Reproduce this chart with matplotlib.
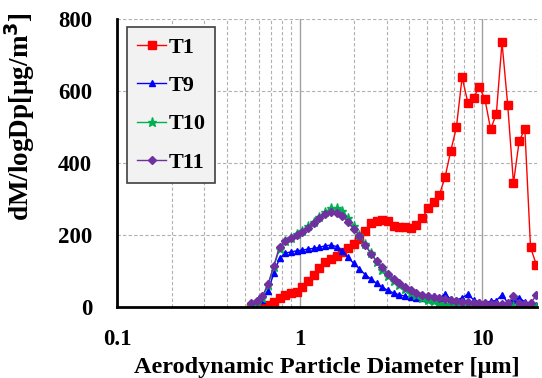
import numpy as np
import matplotlib
matplotlib.use("Agg")
import matplotlib.pyplot as plt
from matplotlib.ticker import FixedLocator, FixedFormatter, NullFormatter

plt.rcParams['font.family'] = ['Liberation Serif', 'DejaVu Serif']
plt.rcParams['font.weight'] = 'bold'

# APS channel midpoints (um)
diam = [0.542, 0.583, 0.626, 0.673, 0.723, 0.777, 0.835, 0.898, 0.965, 1.037,
        1.114, 1.197, 1.286, 1.382, 1.486, 1.596, 1.715, 1.843, 1.981, 2.129,
        2.288, 2.458, 2.642, 2.839, 3.051, 3.278, 3.523, 3.786, 4.068, 4.371,
        4.698, 5.048, 5.425, 5.829, 6.264, 6.732, 7.234, 7.774, 8.354, 8.977,
        9.647, 10.37, 11.14, 11.97, 12.86, 13.82, 14.86, 15.96, 17.15, 18.43,
        19.81]

t1 = [0, 0, 2, 6, 15, 24, 33, 38, 43, 55,
      72, 88, 108, 124, 134, 142, 152, 165, 176, 190,
      212, 232, 240, 242, 240, 226, 223, 221, 219, 228,
      246, 274, 293, 311, 360, 433, 499, 638, 568, 580,
      612, 577, 494, 536, 735, 561, 344, 460, 495, 166,
      118]

t9 = [2, 8, 20, 45, 94, 135, 150, 153, 156, 158,
      161, 163, 166, 170, 172, 168, 155, 138, 121, 106,
      90, 78, 66, 55, 46, 39, 34, 30, 27, 25,
      26, 22, 30, 24, 36, 22, 20, 25, 36, 20,
      14, 12, 16, 18, 34, 12, 20, 26, 14, 8,
      5]

t10 = [2, 10, 25, 60, 112, 162, 182, 192, 202, 212,
       224, 236, 250, 264, 275, 276, 268, 248, 224, 200,
       174, 150, 126, 104, 86, 72, 60, 50, 40, 32,
       26, 20, 16, 12, 8, 6, 5, 3, 2, 2,
       1, 2, 1, 0, 2, 1, 3, 1, 0, 2,
       1]

t11 = [10, 18, 30, 65, 115, 168, 184, 192, 200, 208,
       220, 232, 246, 258, 264, 262, 252, 236, 218, 196,
       172, 148, 128, 110, 92, 78, 66, 55, 47, 40,
       34, 30, 27, 24, 22, 19, 17, 15, 14, 12,
       11, 10, 9, 8, 9, 10, 30, 12, 8, 10,
       32]

fig = plt.figure(figsize=(5.42, 3.78), dpi=100)
ax = fig.add_axes([0.2159, 0.1878, 0.7749, 0.7619])

ax.plot(diam, t1, color='#ff0000', marker='s', ms=5.5, lw=1, label='T1', zorder=3)
ax.plot(diam, t9, color='#0000ff', marker='^', ms=5, lw=1, label='T9', zorder=4)
ax.plot(diam, t10, color='#00b050', marker='*', ms=6.5, lw=1, label='T10', zorder=5)
ax.plot(diam, t11, color='#7030a0', marker='D', ms=4.5, lw=1, label='T11', zorder=6)

ax.set_xscale('log')
ax.set_xlim(0.1, 20)
ax.set_ylim(0, 800)
ax.xaxis.set_major_locator(FixedLocator([0.1, 1, 10]))
ax.xaxis.set_major_formatter(FixedFormatter(['0.1', '1', '10']))
minors = [k * 0.1 for k in range(2, 10)] + list(range(2, 10)) + [20]
ax.xaxis.set_minor_locator(FixedLocator(minors))
ax.xaxis.set_minor_formatter(NullFormatter())
ax.set_yticks([0, 200, 400, 600, 800])

ax.grid(True, which='minor', axis='x', color='#b0b0b0', ls=(0, (3, 2)), lw=0.8)
ax.grid(True, which='major', axis='x', color='#a0a0a0', ls='-', lw=1)
ax.grid(True, which='major', axis='y', color='#b0b0b0', ls=(0, (3, 2)), lw=0.8)
ax.set_axisbelow(True)

for s in ['top', 'right']:
    ax.spines[s].set_visible(False)
for s in ['left', 'bottom']:
    ax.spines[s].set_linewidth(2)
    ax.spines[s].set_zorder(10)

ax.tick_params(axis='both', which='both', length=0, labelsize=16.5)
ax.tick_params(axis='x', pad=16)
ax.tick_params(axis='y', pad=18)

ax.set_xlabel('Aerodynamic Particle Diameter [\u03bcm]', fontsize=17.5, fontweight='bold', labelpad=5)
ax.set_ylabel('dM/logDp[\u03bcg/m$^\\mathbf{3}$]', fontsize=19.5, fontweight='bold')
ax.yaxis.set_label_coords(-0.19, 0.663)

leg = ax.legend(loc='upper left', bbox_to_anchor=(0.024, 0.972), borderaxespad=0,
                fancybox=False, framealpha=1, facecolor='#f2f2f2', edgecolor='#404040',
                prop={'size': 16, 'weight': 'bold'}, handlelength=1.3, handletextpad=0.1,
                labelspacing=0.8, borderpad=0.45)
leg.get_frame().set_linewidth(1.2)

fig.savefig('out.png', dpi=100)
